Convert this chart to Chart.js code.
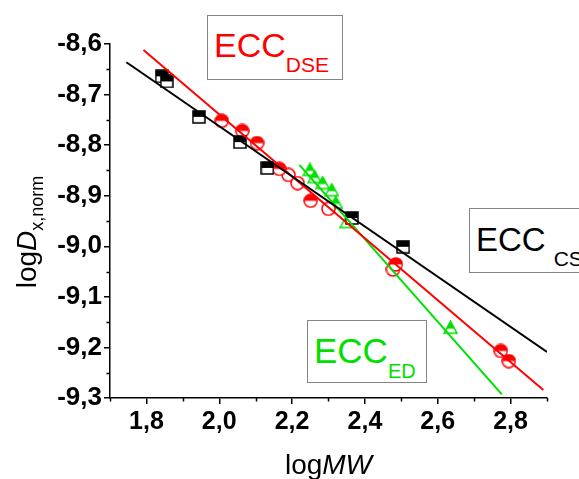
<!DOCTYPE html>
<html>
<head>
<meta charset="utf-8">
<title>logD vs logMW</title>
<script src="https://cdn.jsdelivr.net/npm/chart.js@4.4.0/dist/chart.umd.min.js"></script>
<style>
  html, body { margin: 0; padding: 0; background: #fff; }
  #wrap {
    position: relative; width: 579px; height: 479px; overflow: hidden;
    font-family: "Liberation Sans", Arial, sans-serif; color: #000;
  }
  #plot { position: absolute; left: 0; top: 0; }
  .tag {
    position: absolute; box-sizing: border-box; background: #fff;
    border: 1px solid #858585; white-space: nowrap; line-height: 1;
    padding-left: 6px;
  }
  .tag .big { font-size: 34px; }
  .tag .sub { font-size: 21px; position: relative; top: 15px; }
  #xTitle {
    position: absolute; left: 110px; width: 437px; top: 451px;
    text-align: center; font-size: 28px; line-height: 1;
  }
  #yTitle {
    position: absolute; left: -73px; top: 212px; width: 200px; height: 40px;
    line-height: 40px; text-align: center; font-size: 28px;
    transform: rotate(-90deg); white-space: nowrap;
  }
  #yTitle .sub { font-size: 18px; position: relative; top: 7px; }
</style>
</head>
<body>
<div id="wrap">
  <canvas id="plot" width="579" height="479"></canvas>
  <div id="yTitle">log<i>D</i><span class="sub">x,norm</span></div>
  <div id="xTitle">log<i>MW</i></div>
  <div class="tag" style="left:207px;top:15px;width:136px;height:65px;padding-top:12px;color:#ff0000;">
    <span class="big">ECC</span><span class="sub">DSE</span>
  </div>
  <div class="tag" style="left:469px;top:208px;width:150px;height:65px;padding-top:14px;color:#000;">
    <span class="big" style="font-size:33px;">ECC</span><span class="sub" style="margin-left:8px;">CS</span>
  </div>
  <div class="tag" style="left:307px;top:320px;width:120px;height:63px;padding-top:12px;color:#00e000;">
    <span class="big" style="font-size:35px;">ECC</span><span class="sub" style="font-size:20px;">ED</span>
  </div>
</div>
<script>
// axis ticks
var xTicks = [1.8, 2.0, 2.2, 2.4, 2.6, 2.8];
var xMinor = [1.7, 1.9, 2.1, 2.3, 2.5, 2.7, 2.9];
var yTicks = [-8.6, -8.7, -8.8, -8.9, -9.0, -9.1, -9.2, -9.3];
var yMinor = [-8.65, -8.75, -8.85, -8.95, -9.05, -9.15, -9.25];

// ECC CS (black squares)
var csMW = [1.842, 1.856, 1.944, 2.057, 2.132, 2.364, 2.505];
var csD = [-8.664, -8.674, -8.744, -8.794, -8.845, -8.944, -9.001];
var csFitMW = [1.745, 2.9];
var csFitD = [-8.636, -9.209];

// ECC DSE (red circles)
var dseMW = [2.007, 2.063, 2.104, 2.165, 2.251, 2.485, 2.773, 2.795];
var dseD = [-8.752, -8.772, -8.796, -8.847, -8.910, -9.036, -9.207, -9.227];
var dseOpenMW = [2.190, 2.215, 2.300, 2.477];
var dseOpenD = [-8.859, -8.875, -8.926, -9.046];
var dseFitMW = [1.792, 2.89];
var dseFitD = [-8.612, -9.284];

// ECC ED (green triangles)
var edMW = [2.249, 2.262, 2.284, 2.309, 2.320, 2.635];
var edD = [-8.849, -8.863, -8.875, -8.889, -8.914, -9.161];
var edOpenMW = [2.350];
var edOpenD = [-8.952];
var edFitMW = [2.22, 2.776];
var edFitD = [-8.839, -9.293];

(function () {
  "use strict";

  var RED = "#ff0000";
  var GREEN = "#00e000";
  var BLACK = "#000000";
  var TICK_FONT = { family: "'Liberation Sans', Arial, sans-serif", size: 25, weight: "bold" };

  function pairs(xs, ys) {
    return xs.map(function (x, i) { return { x: x, y: ys[i] }; });
  }

  function fmt(v) {
    return Number(v).toFixed(1).replace(".", ",");
  }

  // half-filled (top) or open marker as a small canvas
  function marker(shape, color, filled) {
    var size = shape === "square" ? 14 : 15;
    var c = document.createElement("canvas");
    c.width = size;
    c.height = size;
    var g = c.getContext("2d");
    var m = size / 2;

    function path() {
      g.beginPath();
      if (shape === "square") {
        g.rect(1, 1, size - 2, size - 2);
      } else if (shape === "circle") {
        g.arc(m, m, m - 1, 0, Math.PI * 2);
      } else {
        g.moveTo(m, 1);
        g.lineTo(size - 1, size - 2);
        g.lineTo(1, size - 2);
        g.closePath();
      }
    }

    path();
    g.fillStyle = "#fff";
    g.fill();
    if (filled) {
      g.save();
      g.beginPath();
      g.rect(0, 0, size, shape === "triangle" ? m + 1 : m);
      g.clip();
      path();
      g.fillStyle = color;
      g.fill();
      g.restore();
    }
    path();
    g.strokeStyle = color;
    g.lineWidth = 1.5;
    g.stroke();
    return c;
  }

  function fitLine(xs, ys, color) {
    return {
      type: "line",
      data: pairs(xs, ys),
      borderColor: color,
      borderWidth: 2,
      pointRadius: 0,
      fill: false
    };
  }

  function points(xs, ys, style) {
    return {
      type: "scatter",
      data: pairs(xs, ys),
      pointStyle: style,
      pointRadius: 7,
      showLine: false
    };
  }

  var minorTicks = {
    id: "minorTicks",
    afterDraw: function (chart) {
      var ctx = chart.ctx;
      var xs = chart.scales.x;
      var ys = chart.scales.y;
      ctx.save();
      ctx.strokeStyle = BLACK;
      ctx.lineWidth = 1.5;
      ctx.beginPath();
      xMinor.forEach(function (v) {
        var px = Math.round(xs.getPixelForValue(v)) + 0.5;
        ctx.moveTo(px, xs.top);
        ctx.lineTo(px, xs.top + 3.5);
      });
      yMinor.forEach(function (v) {
        var py = Math.round(ys.getPixelForValue(v)) + 0.5;
        ctx.moveTo(ys.right, py);
        ctx.lineTo(ys.right - 3.5, py);
      });
      ctx.stroke();
      ctx.restore();
    }
  };

  function axis(min, max, ticks, fit, pad, font) {
    return {
      type: "linear",
      min: min,
      max: max,
      afterFit: fit,
      afterBuildTicks: function (s) {
        s.ticks = ticks.map(function (v) { return { value: v }; });
      },
      grid: { drawOnChartArea: false, color: BLACK, lineWidth: 1.5, tickLength: 6 },
      border: { color: BLACK, width: 1.5 },
      ticks: { color: BLACK, font: font, padding: pad, callback: fmt, autoSkip: false, maxRotation: 0 }
    };
  }

  new Chart(document.getElementById("plot"), {
    type: "scatter",
    data: {
      datasets: [
        fitLine(csFitMW, csFitD, BLACK),
        fitLine(dseFitMW, dseFitD, RED),
        fitLine(edFitMW, edFitD, GREEN),
        points(csMW, csD, marker("square", BLACK, true)),
        points(dseMW, dseD, marker("circle", RED, true)),
        points(dseOpenMW, dseOpenD, marker("circle", RED, false)),
        points(edMW, edD, marker("triangle", GREEN, true)),
        points(edOpenMW, edOpenD, marker("triangle", GREEN, false))
      ]
    },
    options: {
      responsive: false,
      animation: false,
      layout: { padding: { top: 44, right: 32, left: 0, bottom: 0 } },
      plugins: { legend: { display: false }, tooltip: { enabled: false } },
      scales: {
        x: axis(1.7, 2.9, xTicks, function (s) { s.height = 81; }, 3, TICK_FONT),
        y: axis(-9.3, -8.6, yTicks, function (s) { s.width = 110; }, 2,
          { family: TICK_FONT.family, size: 26, weight: "bold" })
      }
    },
    plugins: [minorTicks]
  });
})();
</script>
</body>
</html>
